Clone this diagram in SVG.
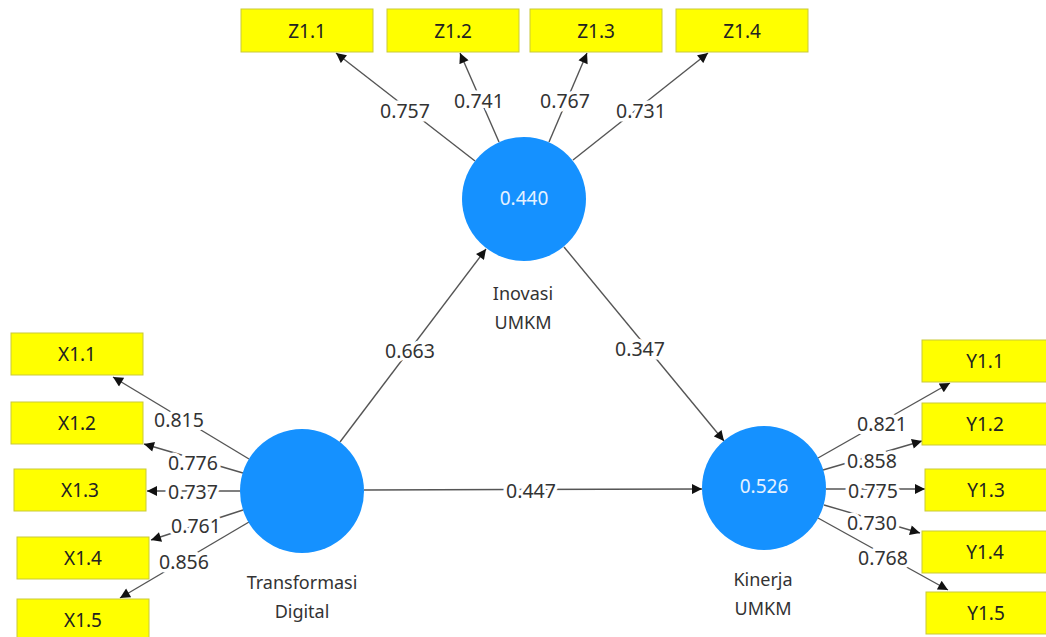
<svg xmlns="http://www.w3.org/2000/svg" width="1046" height="637" viewBox="0 0 1046 637">
<style>
.box{fill:#ffff00;stroke:#c9c93a;stroke-width:1}
.bt{font-family:"Noto Sans","Open Sans",sans-serif;font-size:19px;fill:#222;text-anchor:middle;dominant-baseline:central}
.lv{fill:#1591ff}
.ct{font-family:"Noto Sans","Open Sans",sans-serif;font-size:19px;fill:#e6f2ff;text-anchor:middle;dominant-baseline:central}
.nm{font-family:"Noto Sans","Open Sans",sans-serif;font-size:18px;fill:#333;text-anchor:middle;dominant-baseline:central}
.ln{stroke:#555;stroke-width:1.4;fill:none;marker-end:url(#ah)}
.lb{font-family:"Noto Sans","Open Sans",sans-serif;font-size:19.5px;fill:#333;text-anchor:middle;dominant-baseline:central;stroke:#fff;stroke-width:7;paint-order:stroke;stroke-linejoin:round}
</style>
<defs>
<marker id="ah" viewBox="0 0 10 10" refX="10" refY="5" markerWidth="11" markerHeight="10" markerUnits="userSpaceOnUse" orient="auto">
<path d="M0,0 L10,5 L0,10 z" fill="#111"/>
</marker>
</defs>
<rect width="1046" height="637" fill="#fff"/>
<g id="connectors">
<line class="ln" x1="475" y1="161" x2="336" y2="53"/>
<line class="ln" x1="499" y1="142" x2="460" y2="53"/>
<line class="ln" x1="549" y1="142" x2="587" y2="53"/>
<line class="ln" x1="573" y1="160" x2="708" y2="53"/>
<line class="ln" x1="249" y1="459" x2="113" y2="377"/>
<line class="ln" x1="243" y1="473" x2="144" y2="444"/>
<line class="ln" x1="240" y1="491" x2="147" y2="491"/>
<line class="ln" x1="243" y1="510" x2="151" y2="540"/>
<line class="ln" x1="249" y1="522" x2="120" y2="598"/>
<line class="ln" x1="818" y1="458" x2="950" y2="383"/>
<line class="ln" x1="823" y1="470" x2="922" y2="441"/>
<line class="ln" x1="826" y1="489" x2="925" y2="489"/>
<line class="ln" x1="824" y1="505" x2="920" y2="533"/>
<line class="ln" x1="818" y1="518" x2="948" y2="590"/>
<line class="ln" x1="340" y1="442" x2="486" y2="249"/>
<line class="ln" x1="564" y1="247" x2="724" y2="441"/>
<line class="ln" x1="364" y1="490" x2="702" y2="489"/>
<text class="lb" x="405" y="110">0.757</text>
<text class="lb" x="479" y="100">0.741</text>
<text class="lb" x="565" y="100">0.767</text>
<text class="lb" x="641" y="110">0.731</text>
<text class="lb" x="179" y="419">0.815</text>
<text class="lb" x="193" y="462">0.776</text>
<text class="lb" x="193" y="491">0.737</text>
<text class="lb" x="196" y="525">0.761</text>
<text class="lb" x="184" y="561">0.856</text>
<text class="lb" x="882" y="423">0.821</text>
<text class="lb" x="872" y="460">0.858</text>
<text class="lb" x="873" y="490">0.775</text>
<text class="lb" x="872" y="522">0.730</text>
<text class="lb" x="883" y="557">0.768</text>
<text class="lb" x="410" y="350">0.663</text>
<text class="lb" x="640" y="348">0.347</text>
<text class="lb" x="531" y="490">0.447</text>
</g>
<g id="inovasi">
<circle class="lv" cx="524" cy="199" r="62"/>
<text class="ct" x="524" y="198">0.440</text>
<text class="nm" x="523" y="293">Inovasi</text>
<text class="nm" x="523" y="322">UMKM</text>
</g>
<g id="transformasi">
<circle class="lv" cx="302" cy="491" r="62"/>
<text class="nm" x="302" y="582">Transformasi</text>
<text class="nm" x="302" y="611">Digital</text>
</g>
<g id="kinerja">
<circle class="lv" cx="764" cy="488" r="62"/>
<text class="ct" x="764" y="486">0.526</text>
<text class="nm" x="763" y="579">Kinerja</text>
<text class="nm" x="763" y="608">UMKM</text>
</g>
<g id="z11"><rect class="box" x="241" y="9" width="132" height="43"/><text class="bt" x="307" y="31">Z1.1</text></g>
<g id="z12"><rect class="box" x="387" y="9" width="132" height="43"/><text class="bt" x="453" y="31">Z1.2</text></g>
<g id="z13"><rect class="box" x="530" y="9" width="132" height="43"/><text class="bt" x="596" y="31">Z1.3</text></g>
<g id="z14"><rect class="box" x="676" y="9" width="132" height="43"/><text class="bt" x="742" y="31">Z1.4</text></g>
<g id="x11"><rect class="box" x="11" y="333" width="132" height="42"/><text class="bt" x="77" y="354">X1.1</text></g>
<g id="x12"><rect class="box" x="11" y="402" width="132" height="42"/><text class="bt" x="77" y="423">X1.2</text></g>
<g id="x13"><rect class="box" x="14" y="469" width="132" height="42"/><text class="bt" x="80" y="490">X1.3</text></g>
<g id="x14"><rect class="box" x="17" y="537" width="132" height="42"/><text class="bt" x="83" y="558">X1.4</text></g>
<g id="x15"><rect class="box" x="17" y="599" width="132" height="42"/><text class="bt" x="83" y="620">X1.5</text></g>
<g id="y11"><rect class="box" x="922" y="340" width="132" height="42"/><text class="bt" x="985" y="361">Y1.1</text></g>
<g id="y12"><rect class="box" x="922" y="403" width="132" height="42"/><text class="bt" x="985" y="424">Y1.2</text></g>
<g id="y13"><rect class="box" x="925" y="469" width="132" height="42"/><text class="bt" x="986" y="490">Y1.3</text></g>
<g id="y14"><rect class="box" x="922" y="531" width="132" height="42"/><text class="bt" x="985" y="552">Y1.4</text></g>
<g id="y15"><rect class="box" x="926" y="592" width="132" height="42"/><text class="bt" x="986" y="613">Y1.5</text></g>
</svg>
